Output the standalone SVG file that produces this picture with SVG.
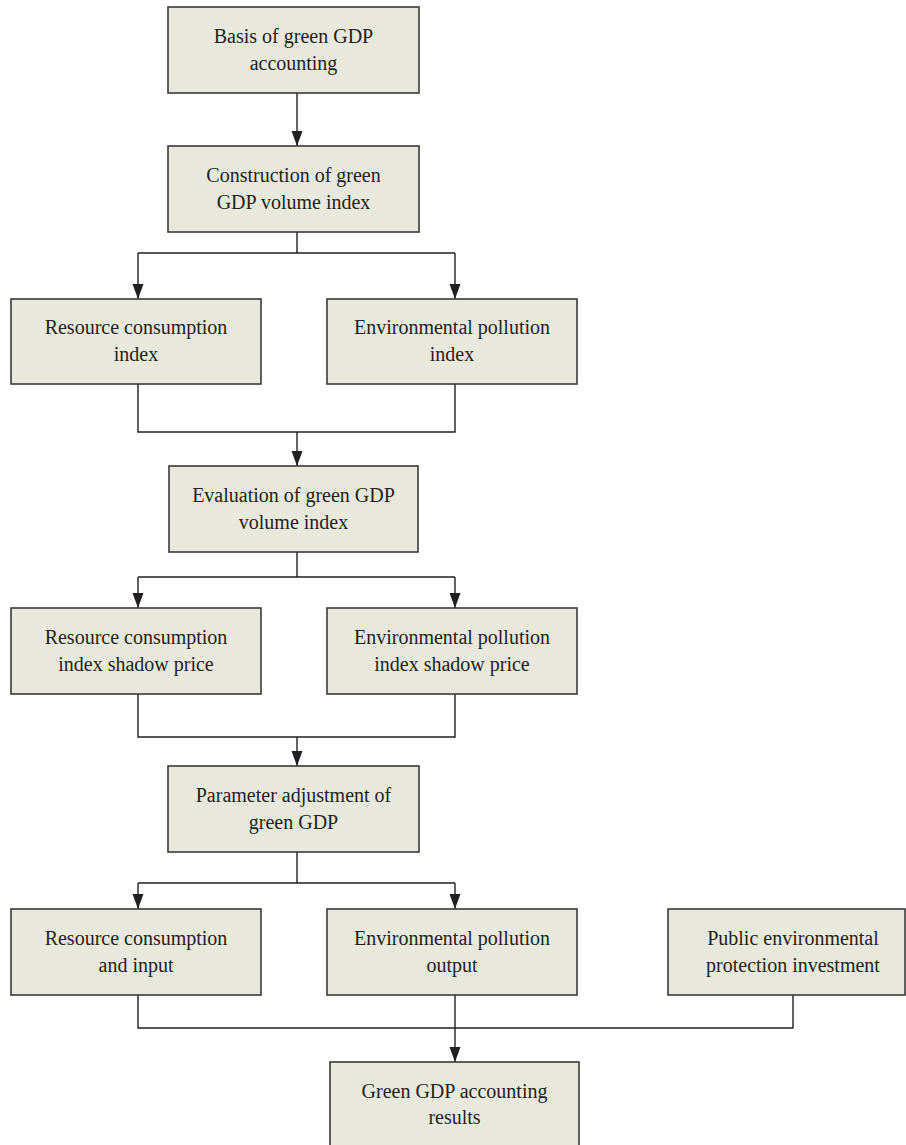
<svg xmlns="http://www.w3.org/2000/svg" width="906" height="1145" viewBox="0 0 906 1145">
<defs>
<marker id="ah" markerUnits="userSpaceOnUse" markerWidth="16" markerHeight="12" refX="15" refY="6" orient="auto">
<path d="M0,0.5 L15,6 L0,11.5 Z" fill="#231f20"/>
</marker>
<style>
.box{fill:#e8e9dc;stroke:#3a3a3a;stroke-width:1.6}
.t{font-family:"Liberation Serif","Times New Roman",serif;font-size:20px;fill:#231f20;text-anchor:middle}
.c{fill:none;stroke:#231f20;stroke-width:1.4}
.a{fill:none;stroke:#231f20;stroke-width:1.4;marker-end:url(#ah)}
</style>
</defs>
<rect width="906" height="1145" fill="#ffffff"/>
<g id="connectors">
<path class="a" d="M297,93 V146"/>
<path class="c" d="M297,232 V253 M138,253 H455"/>
<path class="a" d="M138,253 V299"/>
<path class="a" d="M455,253 V299"/>
<path class="c" d="M138,384 V432 H455 V384"/>
<path class="a" d="M297,432 V466"/>
<path class="c" d="M297,552 V577 M138,577 H455"/>
<path class="a" d="M138,577 V608"/>
<path class="a" d="M455,577 V608"/>
<path class="c" d="M138,694 V737 H455 V694"/>
<path class="a" d="M297,737 V766"/>
<path class="c" d="M297,852 V883 M138,883 H455"/>
<path class="a" d="M138,883 V909"/>
<path class="a" d="M455,883 V909"/>
<path class="c" d="M138,995 V1028 H793 V995"/>
<path class="a" d="M455,995 V1062"/>
</g>
<g id="n1"><rect class="box" x="168" y="7" width="251" height="86"/><text class="t" x="293.5" y="43">Basis of green GDP</text><text class="t" x="293.5" y="70">accounting</text></g>
<g id="n2"><rect class="box" x="168" y="146" width="251" height="86"/><text class="t" x="293.5" y="182">Construction of green</text><text class="t" x="293.5" y="209">GDP volume index</text></g>
<g id="n3"><rect class="box" x="11" y="299" width="250" height="85"/><text class="t" x="136" y="334">Resource consumption</text><text class="t" x="136" y="361">index</text></g>
<g id="n4"><rect class="box" x="327" y="299" width="250" height="85"/><text class="t" x="452" y="334">Environmental pollution</text><text class="t" x="452" y="361">index</text></g>
<g id="n5"><rect class="box" x="169" y="466" width="249" height="86"/><text class="t" x="293.5" y="502">Evaluation of green GDP</text><text class="t" x="293.5" y="529">volume index</text></g>
<g id="n6"><rect class="box" x="11" y="608" width="250" height="86"/><text class="t" x="136" y="644">Resource consumption</text><text class="t" x="136" y="671">index shadow price</text></g>
<g id="n7"><rect class="box" x="327" y="608" width="250" height="86"/><text class="t" x="452" y="644">Environmental pollution</text><text class="t" x="452" y="671">index shadow price</text></g>
<g id="n8"><rect class="box" x="168" y="766" width="251" height="86"/><text class="t" x="293.5" y="802">Parameter adjustment of</text><text class="t" x="293.5" y="829">green GDP</text></g>
<g id="n9"><rect class="box" x="11" y="909" width="250" height="86"/><text class="t" x="136" y="945">Resource consumption</text><text class="t" x="136" y="972">and input</text></g>
<g id="n10"><rect class="box" x="327" y="909" width="250" height="86"/><text class="t" x="452" y="945">Environmental pollution</text><text class="t" x="452" y="972">output</text></g>
<g id="n11"><rect class="box" x="668" y="909" width="237" height="86"/><text class="t" x="793" y="945">Public environmental</text><text class="t" x="793" y="972">protection investment</text></g>
<g id="n12"><rect class="box" x="330" y="1062" width="249" height="86"/><text class="t" x="454.5" y="1098">Green GDP accounting</text><text class="t" x="454.5" y="1124">results</text></g>
</svg>
